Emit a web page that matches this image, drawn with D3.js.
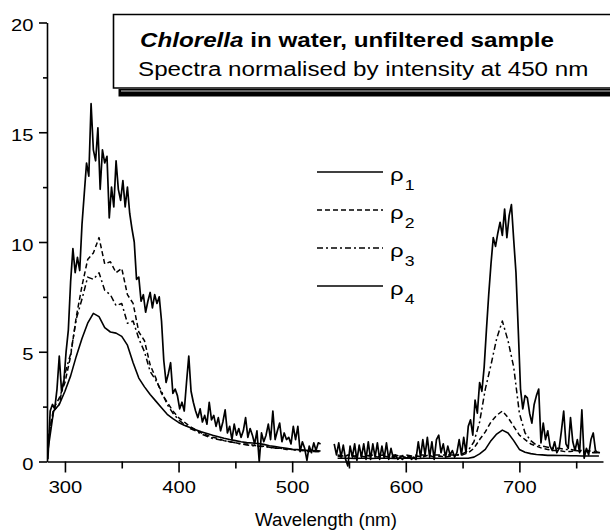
<!DOCTYPE html>
<html>
<head>
<meta charset="utf-8">
<script src="https://d3js.org/d3.v7.min.js"></script>
<style>
  body { margin: 0; background: #fff; overflow: hidden; }
  svg { display: block; font-family: Arial, "Liberation Sans", Helvetica, sans-serif; }
</style>
</head>
<body>
<div class="view1"></div>
<script>
// wavelength grids (nm): rho1 is read every 2 nm, the smoother ones every 5 nm
const rho1Start = 285, rho1Step = 2;
const rhoStart = 285, rhoStep = 5;

// rho1 - noisy top curve (null = gap in the record)
const rho1 = [
    0.1, 2.3, 2.6, 2.4, 3.3, 4.8, 3.2, 3.6, 5.0, 6.0,         // 285-303
    8.2, 9.7, 8.6, 9.3, 8.7, 10.8, 12.2, 13.6, 13.0, 16.3,    // 305-323
    14.2, 13.7, 15.2, 12.4, 14.2, 13.6, 13.9, 11.1, 12.5, 11.6, // 325-343
    13.7, 12.4, 11.9, 12.8, 11.6, 12.5, 11.3, 10.6, 10.0, 8.3, // 345-363
    8.4, 7.3, 7.6, 6.8, 7.3, 7.7, 7.0, 7.6, 7.2, 7.5,         // 365-383
    6.4, 4.6, 3.6, 4.0, 4.5, 3.1, 3.3, 3.0, 2.4, 2.7,         // 385-403
    2.3, 3.6, 4.8, 3.2, 2.7, 2.3, 2.0, 2.4, 1.8, 2.1,         // 405-423
    1.7, 2.7, 1.9, 2.1, 1.6, 2.0, 1.4, 1.8, 2.35, 1.3,        // 425-443
    1.6, 1.0, 1.7, 1.2, 1.5, 1.1, 1.4, 2.0, 1.1, 1.5,         // 445-463
    1.2, 0.8, 1.4, 0.0, 1.3, 0.9, 1.2, 1.7, 1.0, 2.3,         // 465-483
    1.0, 1.4, 1.75, 0.9, 1.3, 1.0, 1.1, 0.8, 1.6, 1.0,        // 485-503
    1.6, 0.45, 0.9, 0.6, 0.05, 0.7, 0.4, 0.85, 0.5, 0.85,     // 505-523
    0.8, null, null, null, null, null, 0.8, 0.3, 0.85, 0.2,   // 525-543
    0.75, 0.1, -0.2, 0.7, 0.2, 0.8, 0.05, 0.75, 0.2, 0.8,     // 545-563
    0.1, 0.9, 0.1, 0.8, 0.2, 0.85, 0.1, 0.7, 0.15, 0.85,      // 565-583
    0.1, 0.6, 0.15, 0.3, 0.1, 0.2, 0.1, 0.2, 0.15, 0.25,      // 585-603
    0.1, 0.2, 0.1, 0.9, 0.2, 1.0, 0.3, 1.1, 0.2, 0.9,         // 605-623
    0.1, 1.0, 1.2, 0.4, 0.8, 0.2, 0.7, 0.3, 0.5, 0.2,         // 625-643
    0.4, 1.0, 0.3, 1.1, 0.4, 1.6, 1.9, 1.2, 2.8, 2.2,         // 645-663
    3.6, 3.2, 4.3, 6.0, 7.6, 9.0, 10.2, 9.8, 10.4, 10.9,      // 665-683
    10.3, 11.5, 10.2, 11.2, 11.7, 10.1, 8.6, 6.0, 3.3, 2.4,   // 685-703
    3.0, 2.9, 2.2, 1.75, 2.6, 3.0, 3.3, 0.85, 1.75, 1.0,      // 705-723
    1.4, 0.7, 0.5, 0.9, 0.4, 0.6, 1.4, 2.3, 0.8, 0.6,         // 725-743
    2.0, 0.9, 0.5, 1.0, 0.4, 2.35, 0.15, 0.6, 0.3, 1.0,       // 745-763
    1.3, 0.5, 0.4, 0.4                                        // 765-771
];

// rho2 - dashed
const rho2 = [
    1.0, 2.4, 2.9, 3.6, 4.8, 6.6, 8.0, 9.2, 9.5, 10.2,       // 285-330
    9.0, 9.1, 8.6, 8.8, 7.6, 7.2, 5.9, 5.5, 4.4, 3.8,        // 335-380
    3.1, 2.7, 2.3, 2.0, 1.8, 1.6, 1.45, 1.3, 1.2, 1.1,       // 385-430
    1.05, 0.95, 0.9, 0.85, 0.8, 0.8, 0.75, 0.7, 0.7, 0.65,   // 435-480
    0.6, 0.6, 0.55, 0.55, 0.5, 0.5, 0.45, 0.45, 0.45, null,  // 485-530
    null, 0.25, 0.2, 0.3, 0.2, 0.25, 0.2, 0.3, 0.2, 0.25,    // 535-580
    0.2, 0.2, 0.25, 0.2, 0.2, 0.25, 0.2, 0.3, 0.2, 0.25,     // 585-630
    0.2, 0.25, 0.3, 0.3, 0.4, 0.6, 1.0, 1.35, 1.8, 2.1,      // 635-680
    2.3, 2.0, 1.6, 1.2, 1.0, 0.8, 0.7, 0.6, 0.55, 0.5,       // 685-730
    0.5, 0.45, 0.45, 0.5, 0.45, 0.45, 0.4, 0.4               // 735-770
];

// rho3 - dash-dot
const rho3 = [
    1.0, 2.3, 2.6, 4.0, 4.9, 6.5, 7.4, 8.4, 8.3, 8.6,        // 285-330
    7.8, 7.6, 7.1, 7.2, 6.3, 6.4, 5.6, 5.0, 4.1, 3.7,        // 335-380
    3.2, 2.6, 2.2, 1.9, 1.7, 1.5, 1.4, 1.25, 1.15, 1.05,     // 385-430
    1.0, 0.95, 0.9, 0.85, 0.8, 0.75, 0.72, 0.7, 0.68, 0.65,  // 435-480
    0.62, 0.6, 0.58, 0.55, 0.52, 0.5, 0.48, 0.45, 0.45, null, // 485-530
    null, 0.3, 0.25, 0.3, 0.25, 0.3, 0.25, 0.3, 0.25, 0.3,   // 535-580
    0.25, 0.3, 0.25, 0.3, 0.25, 0.3, 0.3, 0.25, 0.3, 0.3,    // 585-630
    0.3, 0.3, 0.3, 0.35, 0.5, 0.9, 1.8, 3.3, 4.4, 5.6,       // 635-680
    6.4, 5.5, 4.3, 2.2, 1.3, 0.95, 0.75, 0.7, 0.65, 0.6,     // 685-730
    0.6, 0.55, 0.55, 0.5, 0.5, 0.5, 0.45, 0.45               // 735-770
];

// rho4 - smooth bottom solid
const rho4 = [
    0.5, 2.3, 2.6, 3.2, 3.9, 4.8, 5.6, 6.3, 6.75, 6.6,       // 285-330
    6.1, 5.9, 5.85, 5.7, 5.3, 4.5, 3.8, 3.4, 3.05, 2.75,     // 335-380
    2.45, 2.15, 1.95, 1.78, 1.65, 1.55, 1.45, 1.35, 1.28, 1.2, // 385-430
    1.13, 1.06, 1.0, 0.95, 0.9, 0.86, 0.84, 0.82, 0.78, 0.72, // 435-480
    0.68, 0.64, 0.6, 0.56, 0.54, 0.52, 0.5, 0.5, 0.48, null, // 485-530
    null, 0.15, 0.15, 0.15, 0.14, 0.15, 0.15, 0.14, 0.15, 0.15, // 535-580
    0.15, 0.14, 0.15, 0.15, 0.15, 0.14, 0.15, 0.15, 0.15, 0.15, // 585-630
    0.15, 0.15, 0.15, 0.15, 0.15, 0.2, 0.35, 0.55, 0.95, 1.25,  // 635-680
    1.43, 1.3, 0.95, 0.55, 0.42, 0.36, 0.32, 0.3, 0.28, 0.28,   // 685-730
    0.27, 0.27, 0.26, 0.26, 0.25, 0.25, 0.25, 0.25              // 735-770
];

// axis ticks and texts
const yTicks = [0, 5, 10, 15, 20];
const yMinor = [2.5, 7.5, 12.5, 17.5];
const xTicks = [300, 400, 500, 600, 700];
const xMinor = [350, 450, 550, 650, 750];
const seriesSubs = ["1", "2", "3", "4"];
const titleItalic = "Chlorella";
const titleRest = " in water, unfiltered sample";
const subtitle = "Spectra normalised by intensity at 450 nm";
const xLabel = "Wavelength (nm)";

/** Class drawing the normalised spectra chart */
class SpectraChart {

    constructor(series){
        this.series = series;
        this.width = 610;
        this.height = 531;
        // the original figure is stretched sideways, text included
        this.stretch = 1.26;
    }

    // text that is widened like the rest of the figure
    wideText(parent, x, y, size, stretch){
        let s = stretch || this.stretch;
        return parent.append("text")
            .attr("transform", "translate(" + x + "," + y + ") scale(" + s + ",1)")
            .attr("font-size", size);
    }

    createChart(){
        let svg = d3.select(".view1").append("svg")
            .attr("width", this.width)
            .attr("height", this.height);

        let x = d3.scaleLinear().domain([284.2, 773.6]).range([47, 603]);
        let y = d3.scaleLinear().domain([0, 20]).range([461.5, 22.5]);

        //Axes - majors with labels, minors drawn on their own
        let xAxisG = svg.append("g")
            .attr("transform", "translate(0," + y(0) + ")")
            .call(d3.axisBottom(x).tickValues(xTicks).tickSize(11).tickSizeOuter(0).tickFormat(d3.format("d")));
        svg.append("g")
            .attr("transform", "translate(0," + y(0) + ")")
            .call(d3.axisBottom(x).tickValues(xMinor).tickSize(7).tickSizeOuter(0).tickFormat(""))
            .select(".domain").remove();

        let yAxisG = svg.append("g")
            .attr("transform", "translate(" + x.range()[0] + ",0)")
            .call(d3.axisLeft(y).tickValues(yTicks).tickSize(8).tickSizeOuter(0));
        svg.append("g")
            .attr("transform", "translate(" + x.range()[0] + ",0)")
            .call(d3.axisLeft(y).tickValues(yMinor).tickSize(4).tickSizeOuter(0).tickFormat(""))
            .select(".domain").remove();

        svg.selectAll(".domain, .tick line")
            .attr("stroke", "#000")
            .attr("stroke-width", 1.6);

        xAxisG.selectAll("text")
            .attr("font-size", 16)
            .attr("font-family", null)
            .attr("fill", "#000")
            .attr("y", 0).attr("dy", null)
            .attr("transform", "translate(0,31) scale(" + this.stretch + ",1)");

        yAxisG.selectAll("text")
            .attr("font-size", 16)
            .attr("font-family", null)
            .attr("fill", "#000")
            .attr("x", 0).attr("dy", null)
            .attr("text-anchor", "end")
            .attr("transform", "translate(-13.5,8) scale(" + this.stretch + ",1)");

        this.wideText(svg, 326, 526, 18, 1.04)
            .attr("text-anchor", "middle")
            .text(xLabel);

        //Spectra lines
        let line = d3.line()
            .defined(d => d.v !== null)
            .x(d => x(d.w))
            .y(d => y(d.v));

        let lineLayer = svg.append("g").attr("class", "spectra");
        lineLayer.selectAll("path")
            .data(this.series)
            .enter().append("path")
            .attr("fill", "none")
            .attr("stroke", "#000")
            .attr("stroke-width", d => d.width)
            .attr("stroke-linejoin", "round")
            .attr("stroke-dasharray", d => d.dash)
            .attr("d", d => line(d.values.map((v, i) => ({w: d.start + i * d.step, v: v}))));

        //Legend
        let legend = svg.append("g").attr("class", "legend");
        let rows = legend.selectAll("g")
            .data(this.series)
            .enter().append("g")
            .attr("transform", (d, i) => "translate(0," + (172 + i * 38) + ")");
        rows.append("line")
            .attr("x1", 317).attr("x2", 383)
            .attr("stroke", "#000")
            .attr("stroke-width", 1.6)
            .attr("stroke-dasharray", d => d.dash);
        let self = this;
        rows.each(function(d){
            let t = self.wideText(d3.select(this), 390, 9, 19);
            t.append("tspan").text("\u03C1");
            t.append("tspan").attr("font-size", 14).attr("dy", 9).attr("dx", 1).text(d.sub);
        });

        //Title box with its shadow, open on the right (it runs off the page)
        let box = svg.append("g").attr("class", "title");
        box.append("rect")
            .attr("x", 118.5).attr("y", 89).attr("width", 700).attr("height", 7.5)
            .attr("fill", "#000");
        box.append("line")
            .attr("x1", 121).attr("x2", 820).attr("y1", 91).attr("y2", 91)
            .attr("stroke", "#fff").attr("stroke-width", 0.8);
        box.append("path")
            .attr("d", "M820,14.5H113.5V88H820")
            .attr("fill", "#fff")
            .attr("stroke", "#000")
            .attr("stroke-width", 1.6);

        let t1 = this.wideText(box, 140, 47, 20, 1.21).attr("font-weight", "bold");
        t1.append("tspan").attr("font-style", "italic").text(titleItalic);
        t1.append("tspan").text(titleRest);
        this.wideText(box, 138, 76, 20, 1.21).text(subtitle);
    }
}

let series = [
    {sub: seriesSubs[0], values: rho1, start: rho1Start, step: rho1Step, dash: null, width: 1.7},
    {sub: seriesSubs[1], values: rho2, start: rhoStart, step: rhoStep, dash: "5,3", width: 1.5},
    {sub: seriesSubs[2], values: rho3, start: rhoStart, step: rhoStep, dash: "6,3,2,3", width: 1.5},
    {sub: seriesSubs[3], values: rho4, start: rhoStart, step: rhoStep, dash: null, width: 1.6}
];

let chart = new SpectraChart(series);
chart.createChart();
</script>
</body>
</html>
